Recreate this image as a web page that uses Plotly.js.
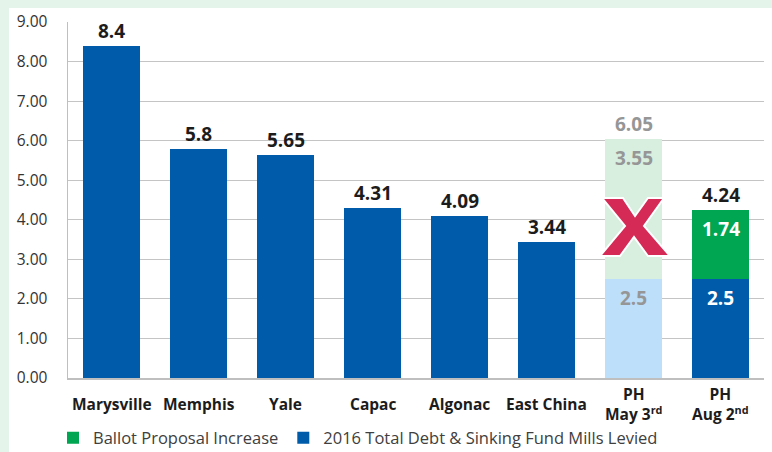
<!DOCTYPE html>
<html><head><meta charset="utf-8">
<script src="https://cdn.plot.ly/plotly-3.0.1.min.js"></script>
<style>html,body{margin:0;padding:0;background:#fff}#chart{width:772px;height:452px}</style>
</head><body><div id="chart"></div>
<script>
const categories = ['Marysville','Memphis','Yale','Capac','Algonac','East China','PH May','PH Aug'];
const tickLabels = ['Marysville','Memphis','Yale','Capac','Algonac','East China','PH<br>May 3<sup>rd</sup>','PH<br>Aug 2<sup>nd</sup>'];
const levied = [8.4, 5.8, 5.65, 4.31, 4.09, 3.44, 2.5, 2.5];
const increase = [null, null, null, null, null, null, 3.55, 1.74];
const rejected = [false, false, false, false, false, false, true, false];
const yTicks = [0,1,2,3,4,5,6,7,8,9];
const seriesNames = ['Ballot Proposal Increase', '2016 Total Debt & Sinking Fund Mills Levied'];

const BLUE = '#005BAA', GREEN = '#00A651', LIGHT_BLUE = '#BDDFFA', LIGHT_GREEN = '#D8EEDF';
const GRAY_TXT = '#969696', DARK = '#1c1c1c', CRIMSON = '#D42A55', MINT = '#E5F4EA';
const FONT = 'Open Sans, Noto Sans, sans-serif';

const W = 772, H = 452, ML = 68, MR = 8, MT = 22, MB = 74;
const PW = W - ML - MR, PH = H - MT - MB;
const px2x = p => (p - ML) / PW, py2y = p => (H - MB - p) / PH;

const totals = levied.map((v, i) => +((v + (increase[i] || 0)).toFixed(2)));

const traces = [
  {type:'bar', name: seriesNames[1], x: categories, y: levied,
   marker:{color: levied.map((v,i)=> rejected[i] ? LIGHT_BLUE : BLUE)},
   legendrank: 2, hoverinfo:'skip'},
  {type:'bar', name: seriesNames[0], x: categories, y: increase,
   marker:{color: increase.map((v,i)=> rejected[i] ? LIGHT_GREEN : GREEN)},
   legendrank: 1, hoverinfo:'skip'}
];

const annotations = [];
categories.forEach((c, i) => {
  annotations.push({x: c, y: totals[i], text: String(totals[i]), showarrow:false,
    yanchor:'middle', yshift: 15,
    font:{family: FONT, size: 19, weight: 'bold', color: rejected[i] ? GRAY_TXT : DARK}});
  if (increase[i] != null) {
    const inColor = rejected[i] ? GRAY_TXT : '#ffffff';
    annotations.push({x: c, y: levied[i], text: String(levied[i]), showarrow:false,
      yanchor:'middle', yshift: -19,
      font:{family: FONT, size: 19, weight: 'bold', color: inColor}});
    annotations.push({x: c, y: totals[i], text: String(increase[i]), showarrow:false,
      yanchor:'middle', yshift: -19,
      font:{family: FONT, size: 19, weight: 'bold', color: inColor}});
  }
  annotations.push({x: c, xref:'x', y: 0, yref:'paper', text: tickLabels[i], showarrow:false,
    yanchor:'middle', yshift: -26,
    font:{family: FONT, size: 15.5, weight: 'bold', color: DARK}});
});

// Red "X" over the rejected proposal (pixel outline -> paper coords)
const xMarkPx = [[602,198],[623,198],[635,216],[648,198],[664,198],[644,226],[670,256],[648,256],[634,237],[620,256],[600,256],[625,226]];
const xPath = 'M' + xMarkPx.map(p => px2x(p[0]).toFixed(4) + ',' + py2y(p[1]).toFixed(4)).join('L') + 'Z';

const shapes = [
  {type:'rect', xref:'paper', yref:'paper', x0: px2x(9), x1: px2x(780), y0: py2y(460), y1: py2y(8),
   fillcolor:'#ffffff', line:{width:0}, layer:'below'},
  {type:'path', xref:'paper', yref:'paper', path: xPath, fillcolor: CRIMSON,
   line:{color:'#ffffff', width:2}, layer:'above'}
];

const layout = {
  width: W, height: H,
  margin:{l: ML, r: MR, t: MT, b: MB, autoexpand:false},
  paper_bgcolor: MINT, plot_bgcolor: 'rgba(0,0,0,0)',
  barmode:'stack', bargap: 0.356,
  showlegend: true,
  legend:{orientation:'h', traceorder:'normal', x: px2x(53), xanchor:'left', y: py2y(438), yanchor:'middle',
    font:{family: FONT, size: 16.5, color:'#404040'}, bgcolor:'rgba(0,0,0,0)'},
  xaxis:{type:'category', categoryorder:'array', categoryarray: categories,
    showticklabels:false, showgrid:false, showline:true, linecolor:'#bfbfbf', linewidth:1.5,
    zeroline:false, fixedrange:true},
  yaxis:{range:[0,9], tickvals: yTicks, ticktext: yTicks.map(v=>v.toFixed(2)),
    showgrid:true, gridcolor:'#c4c4c4', gridwidth:1.2, showline:true, linecolor:'#bfbfbf', linewidth:1.5,
    zeroline:false, ticks:'', ticklabelstandoff: 16,
    tickfont:{family: FONT, size: 15.5, color:'#333333'}, fixedrange:true},
  shapes, annotations
};

Plotly.newPlot('chart', traces, layout, {displayModeBar:false, staticPlot:true});
</script></body></html>
